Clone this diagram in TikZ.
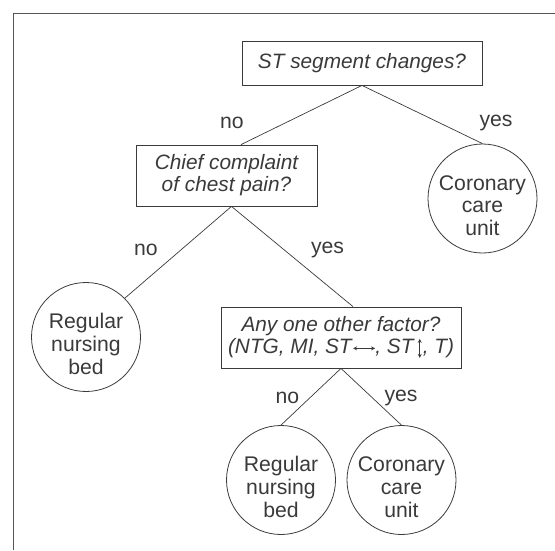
\documentclass[tikz,border=0pt]{standalone}
\usepackage{fontspec}
\setmainfont{Liberation Sans}
\usetikzlibrary{calc,arrows.meta}
\definecolor{ink}{HTML}{3A3A3A}
\definecolor{frame}{HTML}{555555}
\newcommand{\harr}{\hspace{1pt}\tikz[baseline=0pt]\draw[ink,line width=0.7pt,{Stealth[length=4pt,width=4pt]}-{Stealth[length=4pt,width=4pt]}] (0pt,5.5pt) -- (22pt,5.5pt);}
\newcommand{\varr}{\hspace{3pt}\tikz[baseline=0pt]\draw[ink,line width=0.7pt,{Stealth[length=4pt,width=4pt]}-{Stealth[length=4pt,width=4pt]}] (0pt,-4pt) -- (0pt,15pt);\hspace{1pt}}
\begin{document}
\begin{tikzpicture}[x=1pt,y=-1pt,
  every node/.style={text=ink,font=\fontsize{21.2}{22.8}\selectfont},
  qbox/.style={draw=ink,line width=0.8pt,rectangle,inner sep=0pt,align=center,font=\fontsize{20.8}{22}\selectfont\itshape},
  leaf/.style={draw=ink,line width=0.8pt,circle,inner sep=0pt,minimum size=109pt},
  leaftext/.style={inner sep=0pt,align=center},
  edge/.style={draw=ink,line width=0.7pt},
  lbl/.style={inner sep=0pt}]
\useasboundingbox (0,0) rectangle (555,550);
\draw[frame,line width=1.6pt] (13.5,550) -- (13.5,13.5) -- (555,13.5);
\node[qbox,minimum width=240pt,minimum height=44pt] (top) at (362,63) {ST segment changes?};
\node[qbox,minimum width=181pt,minimum height=61pt] (chief) at (226.5,175.5) {Chief complaint\\of chest pain?};
\node[leaf] (cc1) at (482.5,198.5) {};
\node[leaftext] (cc1t) at ($(cc1)+(0,7)$) {Coronary\\care\\unit};
\node[leaf] (reg1) at (86,337) {};
\node[leaftext] (reg1t) at ($(reg1)+(0,7)$) {Regular\\nursing\\bed};
\node[qbox,minimum width=240pt,minimum height=61pt] (any) at (341,337.5) {Any one other factor?\\(NTG, MI, ST\harr, ST\/\varr, T)};
\node[leaf] (reg2) at (281,480) {};
\node[leaftext] (reg2t) at ($(reg2)+(0,7)$) {Regular\\nursing\\bed};
\node[leaf] (cc2) at (401.5,480) {};
\node[leaftext] (cc2t) at ($(cc2)+(0,7)$) {Coronary\\care\\unit};
\coordinate (chieftop) at ($(chief.north)+(14.5,0)$);
\coordinate (chiefbot) at ($(chief.south)+(5,0)$);
\coordinate (anytop) at ($(any.north)+(12,0)$);
\draw[edge] (top.south) -- (chieftop);
\draw[edge] (top.south) -- (cc1.north);
\draw[edge] (chiefbot) -- (reg1.45);
\draw[edge] (chiefbot) -- (anytop);
\draw[edge] (any.south) -- (reg2.north);
\draw[edge] (any.south) -- (cc2.north);
\node[lbl] (no1) at (232,123) {no};
\node[lbl] (yes1) at (496,123) {yes};
\node[lbl] (no2) at (146,250) {no};
\node[lbl] (yes2) at (327.5,250) {yes};
\node[lbl] (no3) at (287.5,398) {no};
\node[lbl] (yes3) at (401,398) {yes};
\end{tikzpicture}
\end{document}
